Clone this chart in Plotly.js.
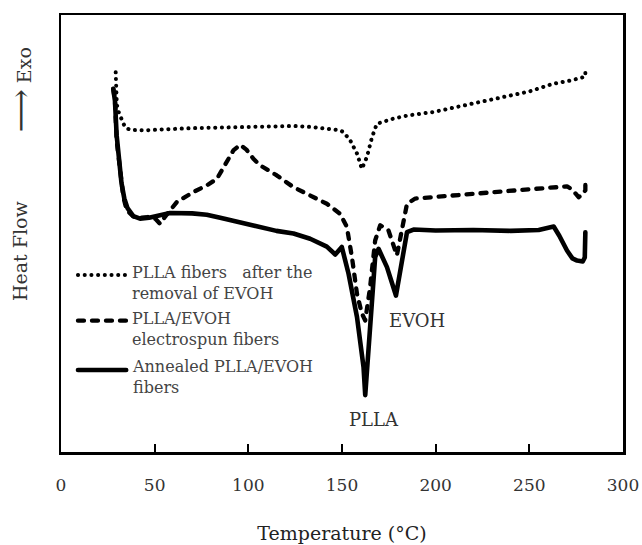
<!DOCTYPE html>
<html>
<head>
<meta charset="utf-8">
<script src="https://cdn.plot.ly/plotly-3.0.1.min.js"></script>
<style>
  html, body { margin: 0; padding: 0; background: #fff; }
  #chart { width: 642px; height: 545px; }
  .js-line, .shapelayer path { stroke-linecap: round; stroke-linejoin: round; }
</style>
</head>
<body>
<div id="chart"></div>
<script>
// ---- data (temperature in °C, heat flow in arbitrary units) ----
const seriesNames = [
  "PLLA fibers\u00a0\u00a0 after the<br>removal of EVOH",
  "PLLA/EVOH<br>electrospun fibers",
  "Annealed PLLA/EVOH<br>fibers"
];

const removedX = [29.2, 29.4, 29.8, 31.0, 32.5, 34.2, 37.0, 45.0, 52.9, 60.0, 70.0, 80.0, 88.5, 100.0, 106.3, 115.0, 124.1, 133.0, 141.9, 149.0, 150.8, 154.4, 158.0, 160.6, 163.3, 166.0, 168.6, 177.5, 185.0, 198.9, 215.0, 234.5, 250.0, 263.0, 272.0, 279.9, 279.9];
const removedY = [86.9, 83.0, 79.5, 77.5, 76.0, 74.3, 73.7, 73.6, 73.8, 74.0, 74.1, 74.2, 74.3, 74.4, 74.6, 74.6, 74.6, 74.4, 74.0, 73.6, 73.2, 71.3, 68.3, 64.8, 67.5, 72.0, 75.1, 76.3, 77.0, 77.8, 79.3, 81.2, 82.5, 84.3, 85.0, 85.9, 87.5];

const spunX = [27.9, 28.8, 29.7, 31.5, 33.3, 35.1, 38.6, 42.2, 47.0, 50.5, 52.9, 55.5, 61.8, 70.7, 77.8, 83.2, 88.5, 92.0, 95.6, 99.0, 102.7, 106.3, 115.2, 124.1, 133.0, 141.9, 149.0, 152.6, 155.3, 158.0, 160.6, 162.4, 165.0, 167.7, 170.4, 174.8, 179.3, 182.0, 184.7, 189.1, 200.0, 216.7, 235.0, 252.3, 265.0, 270.1, 273.0, 276.3, 278.5, 279.9, 279.9];
const spunY = [83.1, 80.4, 71.3, 63.7, 58.3, 55.3, 53.9, 53.6, 53.8, 53.3, 52.2, 53.8, 57.2, 59.5, 61.0, 62.5, 66.7, 69.0, 70.3, 69.2, 67.1, 65.6, 63.3, 60.6, 58.7, 56.8, 54.5, 51.5, 44.6, 36.2, 31.7, 30.1, 37.7, 48.4, 51.9, 50.7, 45.0, 50.7, 56.8, 58.0, 58.4, 59.1, 59.6, 60.2, 60.6, 60.8, 60.0, 58.3, 59.0, 59.9, 62.5];

const annealedX = [27.9, 28.8, 29.7, 31.0, 32.3, 33.8, 35.5, 38.6, 42.2, 47.0, 52.9, 58.2, 70.0, 77.8, 85.0, 92.0, 100.0, 106.3, 115.0, 124.1, 133.0, 141.9, 146.4, 149.9, 153.5, 158.0, 161.5, 162.4, 165.0, 167.7, 169.5, 174.0, 178.8, 182.0, 184.7, 188.2, 200.0, 220.0, 240.0, 255.0, 263.0, 266.0, 270.1, 273.0, 275.5, 278.5, 279.6, 279.9];
const annealedY = [83.1, 80.4, 72.5, 66.0, 61.5, 58.0, 55.8, 54.0, 53.4, 53.6, 54.1, 54.7, 54.6, 54.3, 53.6, 52.9, 52.0, 51.3, 50.6, 50.0, 48.8, 47.0, 45.2, 46.9, 40.8, 30.9, 19.4, 13.0, 27.1, 44.6, 46.5, 42.3, 35.8, 44.6, 50.3, 50.9, 50.7, 50.8, 50.6, 50.8, 51.6, 49.5, 46.1, 44.3, 43.8, 43.6, 44.5, 50.3];

const xTickVals = [0, 50, 100, 150, 200, 250, 300];
const xTickText = ["0", "50", "100", "150", "200", "250", "300"];
const peakLabels = ["PLLA", "EVOH"];
const peakLabelX = [167, 190];     // temperature where each label sits
const peakLabelY = [7.5, 30.0];    // heat flow where each label sits

// ---- styling ----
const serif = "DejaVu Serif, Liberation Serif, serif";
const lineStyles = [
  {color: "#000", width: 4, dash: "0.1px,6.6px"},
  {color: "#000", width: 4.3, dash: "6px,8px"},
  {color: "#000", width: 4.6, dash: "solid"}
];

const traces = [
  {x: removedX, y: removedY, name: seriesNames[0], mode: "lines", line: lineStyles[0], showlegend: false},
  {x: spunX, y: spunY, name: seriesNames[1], mode: "lines", line: lineStyles[1], showlegend: false},
  {x: annealedX, y: annealedY, name: seriesNames[2], mode: "lines", line: lineStyles[2], showlegend: false}
];

// legend drawn in paper coordinates
const legY = [0.405, 0.3005, 0.1876];
const legTextY = [0.387, 0.2815, 0.1723];
const shapes = legY.map((yy, i) => ({
  type: "line", xref: "paper", yref: "paper",
  x0: 0.0302, x1: 0.116, y0: yy, y1: yy,
  line: {color: "#000", width: lineStyles[i].width, dash: lineStyles[i].dash}
}));

const annotations = [];
seriesNames.forEach((t, i) => {
  annotations.push({
    xref: "paper", yref: "paper", x: 0.1228, y: legTextY[i],
    xanchor: "left", yanchor: "middle", align: "left", showarrow: false,
    text: t, font: {family: serif, size: 16, color: "#444"}
  });
});
peakLabels.forEach((t, i) => {
  annotations.push({
    xref: "x", yref: "y", x: peakLabelX[i], y: peakLabelY[i],
    xanchor: "center", yanchor: "middle", showarrow: false,
    text: t, font: {family: serif, size: 18, color: "#333"}
  });
});
annotations.push({
  xref: "paper", yref: "paper", x: -0.073, y: 0.462, textangle: -90,
  xanchor: "center", yanchor: "middle", showarrow: false,
  text: "Heat Flow", font: {family: serif, size: 19, color: "#333"}
});
annotations.push({
  xref: "paper", yref: "paper", x: -0.073, y: 0.83, textangle: -90,
  xanchor: "center", yanchor: "middle", showarrow: false,
  text: "<span style=\"font-size:30px\">\u27F6</span> Exo", font: {family: serif, size: 19, color: "#333"}
});

const layout = {
  width: 642, height: 545,
  margin: {l: 61, r: 19, t: 15, b: 93},
  paper_bgcolor: "#fff", plot_bgcolor: "#fff",
  showlegend: false,
  xaxis: {
    range: [0, 300], tickmode: "array", tickvals: xTickVals, ticktext: xTickText,
    ticks: "inside", ticklen: 8, tickwidth: 2, tickcolor: "#000",
    showline: true, mirror: true, linewidth: 2.5, linecolor: "#000",
    showgrid: false, zeroline: false, automargin: false,
    ticklabelstandoff: 16,
    tickfont: {family: serif, size: 17, color: "#333"},
    title: {text: "Temperature (\u00B0C)", font: {family: serif, size: 19, color: "#222"}, standoff: 33}
  },
  yaxis: {
    range: [0, 100], showticklabels: false, ticks: "",
    showline: true, mirror: true, linewidth: 2.5, linecolor: "#000",
    showgrid: false, zeroline: false, automargin: false
  },
  shapes: shapes,
  annotations: annotations
};

Plotly.newPlot("chart", traces, layout, {displayModeBar: false, staticPlot: true});
</script>
</body>
</html>
